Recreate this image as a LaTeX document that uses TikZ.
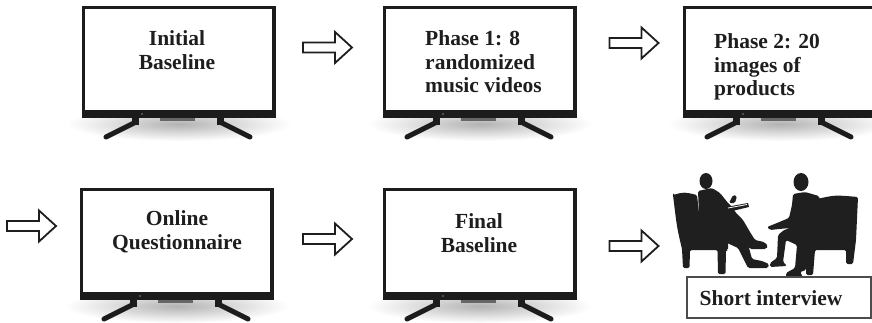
\documentclass[tikz,border=0pt]{standalone}
\usepackage{fontspec}
\setmainfont{Liberation Serif}
\usetikzlibrary{calc}

\definecolor{tvblack}{HTML}{1C1C1C}
\definecolor{inkgray}{HTML}{1E1E1E}

\tikzset{
  screentext/.style={font=\fontsize{21.5}{23.5}\selectfont\bfseries, text=inkgray, inner sep=0pt},
  arrowline/.style={draw=inkgray, line width=1.8pt, fill=white, line join=miter},
  tvleg/.style={draw=tvblack, line width=5pt, line cap=round},
  silhouette/.style={fill=black!88, rounded corners=1.5pt},
  framebox/.style={draw=black!70, line width=1.2pt},
}

% a flat-screen TV on its stand; #1 names the screen centre, (#2,#3) is the top-left corner
\newcommand\tvunit[3]{%
  \begin{scope}[shift={(#2,#3)}]
    \shade[inner color=black!30, outer color=white] (97,118) ellipse [x radius=112, y radius=17];
    \draw[tvleg] (54,116) -- (24,131);
    \draw[tvleg] (138,116) -- (168,131);
    \fill[tvblack] (50,110) rectangle (57,119);
    \fill[tvblack] (135,110) rectangle (142,119);
    \fill[tvblack] (0,0) rectangle (194,112);
    \fill[black!60] (78,112) rectangle (113,114.5);
    \fill[white] (2.5,2.5) rectangle (190,104);
    \fill[black!50] (60,108) circle (0.8);
    \coordinate (#1) at (97,56);
  \end{scope}}

% hollow block arrow pointing right, centred on a named coordinate
\newcommand\blockarrow[3]{%
  \coordinate (#1) at (#2,#3);
  \draw[arrowline] ($(#1)+(-24.5,-5)$) -- ++(32,0) -- ++(0,-10.5) -- ++(17,15.5)
    -- ++(-17,15.5) -- ++(0,-10.5) -- ++(-32,0) -- cycle;}

\begin{document}
\begin{tikzpicture}[x=1pt,y=-1pt]
\useasboundingbox (0,0) rectangle (872,322);
\clip (0,0) rectangle (872,322);

% screens
\tvunit{tv1}{82}{6}
\tvunit{tv2}{383}{6}
\tvunit{tv3}{683}{6}
\tvunit{tv4}{80}{188}
\tvunit{tv5}{383}{188}

% screen captions
\node[screentext, align=center, anchor=north] (lab1) at (177,30.8) {Initial\\Baseline};
\node[screentext, align=left, anchor=north west] (lab2) at (425,30.8) {Phase 1: 8\\randomized\\music videos};
\node[screentext, align=left, anchor=north west] (lab3) at (714,33.8) {Phase 2: 20\\images of\\products};
\node[screentext, align=center, anchor=north] (lab4) at (177,210.8) {Online\\Questionnaire};
\node[screentext, align=center, anchor=north] (lab5) at (479,213.8) {Final\\Baseline};

% flow arrows
\blockarrow{a1}{327.5}{47.5}
\blockarrow{a2}{634}{43}
\blockarrow{a3}{31.5}{226}
\blockarrow{a4}{327.5}{239}
\blockarrow{a5}{634}{246}

% interview scene: left armchair and interviewer
\fill[silhouette] (673,195) .. controls (684,192) .. (697,195) -- (700,222) -- (728,230)
  -- (728,250) -- (726,250) -- (725.5,274) -- (718,274) -- (717.5,250) -- (690,250)
  -- (689.5,268) -- (683,268) -- (682,249) .. controls (677,228) .. (673,195) -- cycle;
\fill[silhouette] (706,181) ellipse [x radius=6.5, y radius=8];
\fill[silhouette] (698,191) -- (712,188) -- (720,193) -- (728,203) -- (733,208) -- (736,213)
  -- (743,220) -- (750,232) -- (755,240) -- (764,242) -- (768,246) -- (766,249) -- (750,249)
  -- (744,240) -- (735,233) -- (720,236) -- (700,238) -- cycle;
\fill[silhouette] (720,229) -- (740,231) -- (748,244) -- (752,259) -- (762,261) -- (769,264)
  -- (768,268) -- (748,268) -- (745,262) -- (738,248) -- (725,242) -- cycle;
\fill[silhouette] (729,203) -- (733,195) -- (737,196) -- (735,203) -- cycle;
\fill[black!88] (726,207) -- (748,203) -- (749,207) -- (728,212) -- cycle;
\draw[white, line width=0.8pt] (728,208) -- (747,204.5);

% right armchair and interviewee
\fill[silhouette] (817,199) .. controls (835,195) .. (858,197) -- (856,240) -- (853,264)
  -- (846,264) -- (846,250) -- (815,250) -- (813,275) -- (806,275) -- (806,240)
  -- (815,225) -- cycle;
\fill[silhouette] (801,182) ellipse [x radius=7.5, y radius=9];
\fill[silhouette] (793,194) -- (805,192) -- (819,196) -- (823,215) -- (821,245) -- (810,250)
  -- (806,270) -- (800,272) -- (803,277) -- (786,277) -- (786,273) -- (795,268) -- (797,245)
  -- (786,240) -- (783,262) -- (787,266) -- (770,267) -- (770,263) -- (777,258) -- (778,235)
  -- (784,230) -- (790,228) -- (779,229) -- (770,230) -- (767,227) -- (777,223) -- (789,218)
  -- (792,205) -- cycle;

% caption under the scene
\node[screentext, anchor=base] (lab6) at (771,305) {Short interview};
\draw[framebox] ($(lab6.base)+(-84,-28)$) rectangle ($(lab6.base)+(100,13)$);
\end{tikzpicture}
\end{document}
